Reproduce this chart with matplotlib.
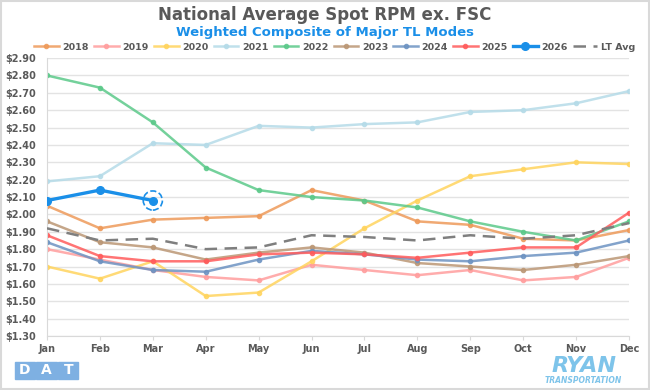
import matplotlib.pyplot as plt
from matplotlib.patches import Rectangle

months = ['Jan', 'Feb', 'Mar', 'Apr', 'May', 'Jun', 'Jul', 'Aug', 'Sep', 'Oct', 'Nov', 'Dec']

y2018 = [2.05, 1.92, 1.97, 1.98, 1.99, 2.14, 2.08, 1.96, 1.94, 1.86, 1.85, 1.91]
y2019 = [1.80, 1.74, 1.68, 1.64, 1.62, 1.71, 1.68, 1.65, 1.68, 1.62, 1.64, 1.75]
y2020 = [1.70, 1.63, 1.73, 1.53, 1.55, 1.73, 1.92, 2.08, 2.22, 2.26, 2.30, 2.29]
y2021 = [2.19, 2.22, 2.41, 2.40, 2.51, 2.50, 2.52, 2.53, 2.59, 2.60, 2.64, 2.71]
y2022 = [2.80, 2.73, 2.53, 2.27, 2.14, 2.10, 2.08, 2.04, 1.96, 1.90, 1.85, 1.96]
y2023 = [1.96, 1.84, 1.81, 1.74, 1.78, 1.81, 1.78, 1.72, 1.70, 1.68, 1.71, 1.76]
y2024 = [1.84, 1.73, 1.68, 1.67, 1.74, 1.79, 1.77, 1.74, 1.73, 1.76, 1.78, 1.85]
y2025 = [1.88, 1.76, 1.73, 1.73, 1.77, 1.78, 1.77, 1.75, 1.78, 1.81, 1.81, 2.01]
y2026 = [2.08, 2.14, 2.08]
lt_avg = [1.92, 1.85, 1.86, 1.80, 1.81, 1.88, 1.87, 1.85, 1.88, 1.86, 1.88, 1.95]

years = ['2018', '2019', '2020', '2021', '2022', '2023', '2024', '2025']
series = [y2018, y2019, y2020, y2021, y2022, y2023, y2024, y2025]
colors = ['#ee9a5a', '#ff9e9e', '#ffd45e', '#b5dbe8', '#5cc98a', '#bb9775', '#6d93c2', '#ff5c5c']

fig = plt.figure(figsize=(6.5, 3.9), dpi=100)
ax = fig.add_axes([0.0723, 0.1385, 0.8954, 0.7125])

x = list(range(12))
for yr, vals, col in zip(years, series, colors):
    ax.plot(x, vals, color=col, lw=1.8, marker='o', ms=3, alpha=0.85, label=yr, zorder=2)
ax.plot(x[:3], y2026, color='#1a8fe8', lw=2.4, marker='o', ms=5.5, label='2026', zorder=4)
ax.plot(x, lt_avg, color='#7f7f7f', lw=1.8, dashes=(5, 3), label='LT Avg', zorder=3)
# dashed ring around the latest point
ax.scatter([2], [y2026[-1]], s=190, facecolors='none', edgecolors='#1a8fe8',
           linewidths=1.2, linestyles='--', zorder=4)

ax.set_xlim(0, 11)
ax.set_ylim(1.30, 2.90)
ax.set_xticks(x)
ax.set_xticklabels(months)
yt = [1.30 + 0.1 * i for i in range(17)]
ax.set_yticks(yt)
ax.set_yticklabels(['${:.2f}'.format(v) for v in yt])
for lab in ax.get_xticklabels() + ax.get_yticklabels():
    lab.set_color('#595959')
    lab.set_fontweight('bold')
    lab.set_fontsize(7)
ax.tick_params(axis='y', length=0, pad=8)
ax.tick_params(axis='x', length=3, color='#d9d9d9', pad=3)
ax.grid(axis='y', color='#e3e3e3', lw=1)
ax.set_axisbelow(True)
for s in ['top', 'right']:
    ax.spines[s].set_visible(False)
ax.spines['left'].set_color('#d9d9d9')
ax.spines['bottom'].set_color('#d9d9d9')

fig.text(0.5, 0.962, 'National Average Spot RPM ex. FSC', ha='center', va='center',
         fontsize=12, color='#595959', fontweight='bold')
fig.text(0.5, 0.917, 'Weighted Composite of Major TL Modes', ha='center', va='center',
         fontsize=9.5, color='#1a8fe8', fontweight='bold')

handles, labels = ax.get_legend_handles_labels()
leg = fig.legend(handles[:10], labels[:10], loc='center', bbox_to_anchor=(0.515, 0.879), ncol=10,
                 frameon=False, fontsize=6.8, handlelength=2.6, columnspacing=0.55,
                 handletextpad=0.4, borderaxespad=0)
for t in leg.get_texts():
    t.set_color('#595959')
    t.set_fontweight('bold')

# DAT logo
for i, ch in enumerate('DAT'):
    fig.patches.append(Rectangle((0.0225 + i * 0.0335, 0.029), 0.031, 0.042,
                                 transform=fig.transFigure, color='#7eb0e2', zorder=5))
    fig.text(0.038 + i * 0.0335, 0.050, ch, ha='center', va='center', fontsize=10,
             color='white', fontweight='bold', zorder=6)

# RYAN logo
fig.text(0.898, 0.062, 'RYAN', ha='center', va='center', fontsize=16, color='#7ec4ea',
         fontweight='bold', style='italic')
fig.text(0.898, 0.024, 'TRANSPORTATION', ha='center', va='center', fontsize=5.5,
         color='#7ec4ea', fontweight='bold', style='italic')

fig.patches.append(Rectangle((0.002, 0.003), 0.996, 0.994, transform=fig.transFigure,
                             fill=False, ec='#d9d9d9', lw=1.5))

fig.savefig('out.png', dpi=100, facecolor='white')
